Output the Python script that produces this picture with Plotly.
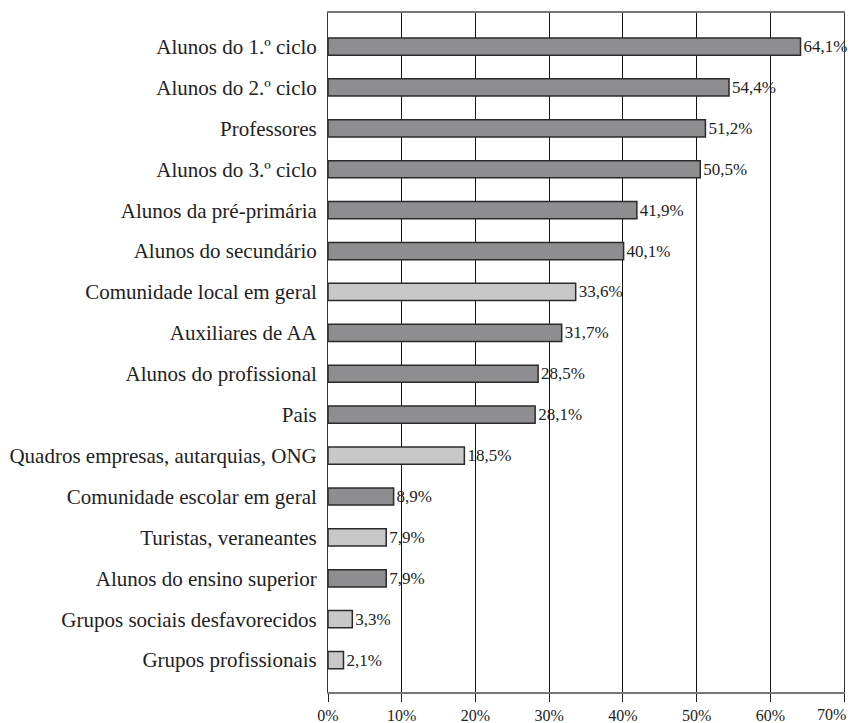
import plotly.graph_objects as go

categories = ["Alunos do 1.º ciclo", "Alunos do 2.º ciclo", "Professores", "Alunos do 3.º ciclo",
              "Alunos da pré-primária", "Alunos do secundário", "Comunidade local em geral",
              "Auxiliares de AA", "Alunos do profissional", "Pais",
              "Quadros empresas, autarquias, ONG", "Comunidade escolar em geral",
              "Turistas, veraneantes", "Alunos do ensino superior",
              "Grupos sociais desfavorecidos", "Grupos profissionais"]
values = [64.1, 54.4, 51.2, 50.5, 41.9, 40.1, 33.6, 31.7, 28.5, 28.1, 18.5, 8.9, 7.9, 7.9, 3.3, 2.1]
light = [False, False, False, False, False, False, True, False, False, False, True, False, True, False, True, True]
tick_vals = [0, 10, 20, 30, 40, 50, 60, 70]
tick_text = ["0%", "10%", "20%", "30%", "40%", "50%", "60%", "70%"]

labels = [f"{v:.1f}".replace(".", ",") + "%" for v in values]
colors = ["#c8c8c8" if l else "#8e8e91" for l in light]
ypos = list(range(len(categories)))
# last tick label is drawn right-aligned at its tick so it stays inside the page
shown_ticks = tick_text[:-1] + [""]

font_family = "Liberation Serif"

fig = go.Figure(go.Bar(
    x=values, y=ypos, orientation="h",
    marker=dict(color=colors, line=dict(color="#2a2a2a", width=1.5)),
    width=0.42,
    text=labels, textposition="outside", cliponaxis=False, constraintext="none",
    textfont=dict(family=font_family, size=17, color="#222"),
))

fig.add_annotation(x=tick_vals[-1], xref="x", y=0, yref="paper",
                   text=tick_text[-1], showarrow=False,
                   xanchor="right", yanchor="top", xshift=4, yshift=-12,
                   font=dict(size=16, family=font_family, color="#222"))

fig.update_layout(
    width=856, height=723,
    margin=dict(l=328, r=12, t=13, b=31, autoexpand=False),
    paper_bgcolor="white", plot_bgcolor="white",
    showlegend=False,
    font=dict(family=font_family, color="#222"),
    xaxis=dict(range=[0, 70], tickvals=tick_vals, ticktext=shown_ticks,
               showgrid=True, gridcolor="#111", gridwidth=1,
               showline=True, linecolor="#777", linewidth=1.5, mirror=True,
               ticks="outside", ticklen=8, tickcolor="#222",
               automargin=False, ticklabelstandoff=0,
               tickfont=dict(size=16, family=font_family), zeroline=False),
    yaxis=dict(range=[15.78, -0.82], tickvals=ypos, ticktext=categories,
               showgrid=False, showline=True, linecolor="#333", linewidth=1, mirror=True,
               ticks="", ticklabelstandoff=6, automargin=False,
               tickfont=dict(size=21, family=font_family), zeroline=False),
    bargap=0.5,
)

fig.write_html("out.html")
